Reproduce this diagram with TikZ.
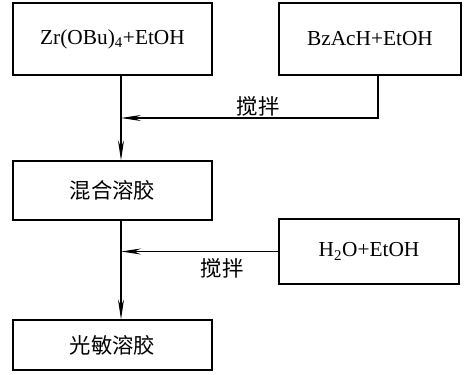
\documentclass[tikz,border=0pt]{standalone}
\usepackage{fontspec}
\setmainfont{Liberation Serif}
\newfontfamily\cjk{Noto Sans CJK SC}
\usetikzlibrary{arrows.meta}
\begin{document}
\begin{tikzpicture}[x=0.75pt,y=-0.75pt,
  box/.style={draw,line width=0.9pt,inner sep=0pt,font=\fontsize{16}{19}\selectfont},
  lbl/.style={inner sep=0pt,font=\fontsize{16}{19}\selectfont\cjk},
  conn/.style={line width=0.8pt},
  arr/.style={conn,-{Stealth[length=15pt,width=4.5pt,inset=5pt]}}]
\useasboundingbox (0,0) rectangle (466,374);
\node[box,minimum width=149.25pt,minimum height=54pt] (b1) at (112.5,39) {Zr(OBu)\textsubscript{4}+EtOH};
\node[box,minimum width=136.5pt,minimum height=54pt] (b2) at (370,39) {BzAcH+EtOH};
\node[box,minimum width=149.25pt,minimum height=44.25pt,font=\fontsize{16}{19}\selectfont\cjk] (b3) at (112.5,190.5) {混合溶胶};
\node[box,minimum width=135pt,minimum height=48.75pt] (b4) at (369,251.5) {H\textsubscript{2}O+EtOH};
\node[box,minimum width=149.25pt,minimum height=37.5pt,font=\fontsize{16}{19}\selectfont\cjk] (b5) at (112.5,345) {光敏溶胶};
\coordinate (j1) at (121,118);
\coordinate (k1) at (378,118);
\coordinate (j2) at (121,251.5);
\draw[arr] (b1.south -| j1) -- (b3.north -| j1);
\draw[arr] (b3.south -| j1) -- (b5.north -| j1);
\draw[arr] (k1 |- b2.south) -- (k1) -- (j1);
\draw[arr] (b4.west) -- (j2);
\node[lbl] (l1) at (258,106) {搅拌};
\node[lbl] (l2) at (222,268) {搅拌};
\end{tikzpicture}
\end{document}
